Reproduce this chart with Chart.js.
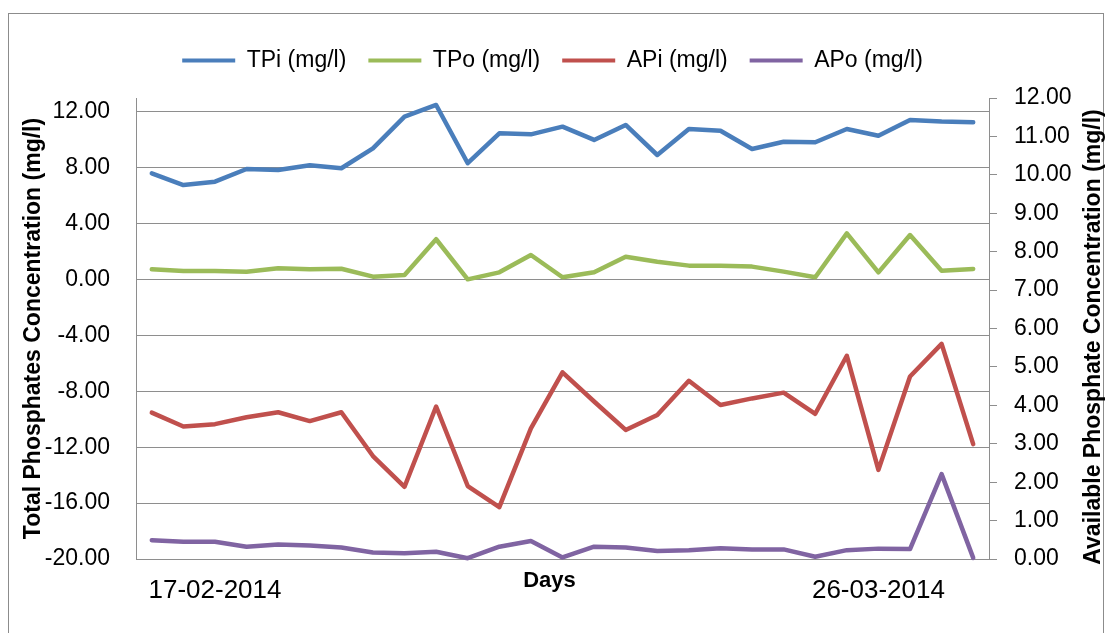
<!DOCTYPE html>
<html>
<head>
<meta charset="utf-8">
<script src="https://cdn.jsdelivr.net/npm/chart.js@4.4.1/dist/chart.umd.min.js"></script>
<style>
  html, body { margin: 0; padding: 0; background: #fff; }
  #wrap { position: relative; width: 1105px; height: 633px; overflow: hidden; }
  #frame { position: absolute; left: 8px; top: 13px; width: 1094px; height: 660px; border: 1px solid #8c8c8c; }
  #chart { position: absolute; left: 0; top: 0; }
</style>
</head>
<body>
<div id="wrap">
  <div id="frame"></div>
  <canvas id="chart" width="1105" height="633"></canvas>
</div>
<script>
// sampling days (only two dates are printed under the axis)
const days = ['', '', '17-02-2014', '', '', '', '', '', '', '', '', '', '', '', '', '', '', '', '', '', '', '', '', '26-03-2014', '', '', ''];

// total phosphates (left axis)
const tpi = [7.61, 6.77, 7.01, 7.92, 7.85, 8.18, 7.97, 9.40, 11.67, 12.50, 8.33, 10.47, 10.40, 10.95, 10.00, 11.07, 8.92, 10.78, 10.66, 9.35, 9.87, 9.83, 10.78, 10.30, 11.43, 11.31, 11.26];
const tpo = [0.74, 0.62, 0.62, 0.57, 0.81, 0.74, 0.78, 0.21, 0.33, 2.89, 0.02, 0.52, 1.76, 0.17, 0.52, 1.64, 1.28, 1.00, 1.00, 0.93, 0.57, 0.17, 3.31, 0.52, 3.19, 0.64, 0.76];

// available phosphates (right axis)
const api = [3.81, 3.45, 3.51, 3.69, 3.82, 3.59, 3.82, 2.68, 1.88, 3.97, 1.90, 1.35, 3.40, 4.86, 4.10, 3.36, 3.75, 4.64, 4.01, 4.18, 4.33, 3.78, 5.29, 2.32, 4.75, 5.60, 2.99];
const apo = [0.49, 0.45, 0.45, 0.32, 0.38, 0.35, 0.30, 0.17, 0.15, 0.19, 0.02, 0.32, 0.47, 0.04, 0.32, 0.30, 0.21, 0.23, 0.28, 0.25, 0.25, 0.06, 0.23, 0.27, 0.26, 2.21, 0.03];

// tick values
const leftTicks = [-20, -16, -12, -8, -4, 0, 4, 8, 12];
const rightTicks = [0, 1, 2, 3, 4, 5, 6, 7, 8, 9, 10, 11, 12];

const leftTitle = 'Total Phosphates Concentration (mg/l)';
const rightTitle = 'Available Phosphate Concentration (mg/l)';
const xTitle = 'Days';

const FONT = '"Liberation Sans", Arial, sans-serif';
const AXIS = '#8e8e8e';

Chart.defaults.font.family = FONT;
Chart.defaults.color = '#000';

function line(label, data, color, axis) {
  return {
    label, data, yAxisID: axis,
    borderColor: color, backgroundColor: color,
    borderWidth: 4.5, pointRadius: 0, tension: 0,
    borderCapStyle: 'round', borderJoinStyle: 'round', clip: false,
  };
}

// right title reads bottom-to-top like the left one, and "Days" sits between the dates
const extraText = {
  id: 'extraText',
  afterDraw(chart) {
    const { ctx, chartArea } = chart;
    ctx.save();
    ctx.fillStyle = '#000';
    ctx.font = 'bold 22px ' + FONT;
    ctx.textAlign = 'center';
    ctx.textBaseline = 'middle';
    ctx.fillText(xTitle, (chartArea.left + chartArea.right) / 2 - 13, chartArea.bottom + 22);
    ctx.font = 'bold 23px ' + FONT;
    ctx.translate(1094, 337);
    ctx.rotate(-Math.PI / 2);
    ctx.fillText(rightTitle, 0, 0);
    ctx.restore();
  },
};

new Chart(document.getElementById('chart'), {
  type: 'line',
  data: {
    labels: days,
    datasets: [
      line('TPi (mg/l)', tpi, '#4a7ebb', 'y'),
      line('TPo (mg/l)', tpo, '#9bbb59', 'y'),
      line('APi (mg/l)', api, '#c0504d', 'y2'),
      line('APo (mg/l)', apo, '#8064a2', 'y2'),
    ],
  },
  plugins: [extraText],
  options: {
    responsive: false, animation: false,
    layout: { padding: { top: 27, left: 0, right: 0, bottom: 0 } },
    plugins: {
      tooltip: { enabled: false },
      legend: {
        position: 'top',
        labels: {
          font: { size: 23 }, boxWidth: 53, boxHeight: 4, padding: 22, color: '#000',
          generateLabels: (chart) => chart.data.datasets.map((ds, i) => ({
            text: ds.label, fillStyle: ds.borderColor, strokeStyle: ds.borderColor,
            lineWidth: 0, datasetIndex: i, hidden: false,
          })),
        },
      },
    },
    scales: {
      x: {
        type: 'category', offset: true,
        grid: { display: false, offset: true },
        border: { display: true, color: AXIS },
        ticks: { autoSkip: false, maxRotation: 0, font: { size: 26 }, padding: 8, color: '#000' },
        afterFit: (s) => { s.height = 74; },
      },
      xTop: {
        type: 'category', position: 'top',
        grid: { display: false }, border: { display: false }, ticks: { display: false },
        afterFit: (s) => { s.height = 16; },
      },
      y: {
        position: 'left', min: -20, max: 13,
        ticks: { font: { size: 23 }, padding: 26, color: '#000', callback: (v) => v.toFixed(2) },
        afterBuildTicks: (s) => { s.ticks = leftTicks.map((v) => ({ value: v })); },
        grid: { color: AXIS, drawTicks: false },
        border: { color: AXIS },
        title: { display: true, text: leftTitle, font: { size: 23, weight: 'bold' }, color: '#000', padding: { top: 20, bottom: 0 } },
        afterFit: (s) => { s.width = 136; },
      },
      y2: {
        position: 'right', min: 0, max: 12,
        ticks: { font: { size: 23 }, padding: 17, color: '#000', callback: (v) => v.toFixed(2) },
        afterBuildTicks: (s) => { s.ticks = rightTicks.map((v) => ({ value: v })); },
        grid: { drawOnChartArea: false, drawTicks: true, tickLength: 8, color: AXIS },
        border: { color: AXIS },
        afterFit: (s) => { s.width = 116; },
      },
    },
  },
});
</script>
</body>
</html>
